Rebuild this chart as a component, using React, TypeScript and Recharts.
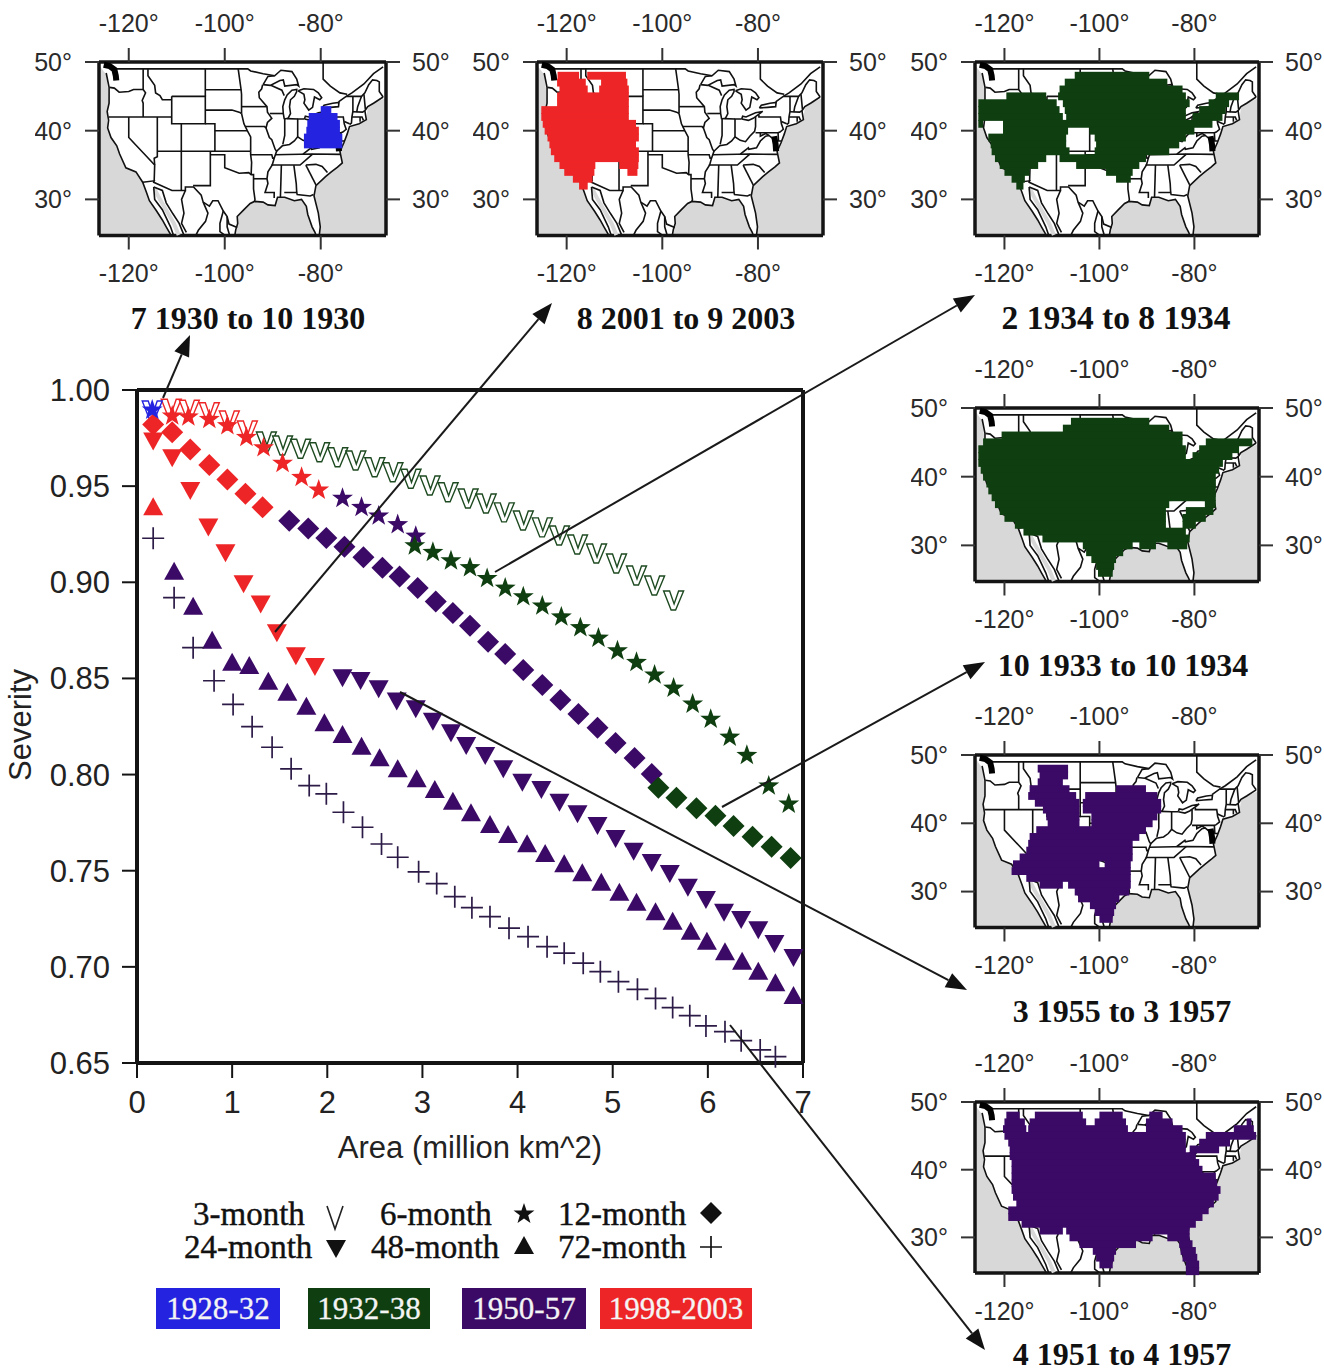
import React from "react";
import {
  Area,
  ComposedChart,
  Scatter,
  ScatterChart,
  XAxis,
  YAxis,
} from "recharts";

// main chart: [area, severity], one list per duration and drought
const threeMonthBlue = [[0.16, 0.9896]];
const threeMonthRed = [[0.36, 0.9905], [0.55, 0.99], [0.76, 0.9887], [0.97, 0.9844], [1.16, 0.9792]];
const threeMonthGreen = [
  [1.36, 0.9735], [1.53, 0.9714], [1.72, 0.9697], [1.92, 0.9679], [2.11, 0.9653], [2.3, 0.9636],
  [2.5, 0.9601], [2.69, 0.9575], [2.88, 0.9541], [3.08, 0.9506], [3.27, 0.9471], [3.48, 0.9438],
  [3.67, 0.9412], [3.86, 0.9366], [4.06, 0.9324], [4.26, 0.9288], [4.44, 0.9246], [4.63, 0.9199],
  [4.83, 0.9152], [5.04, 0.91], [5.25, 0.9038], [5.44, 0.8986], [5.64, 0.8908],
];
const sixMonthBlue = [[0.16, 0.9896]];
const sixMonthRed = [
  [0.37, 0.9865], [0.54, 0.986], [0.76, 0.9847], [0.95, 0.9815], [1.15, 0.9754], [1.33, 0.97],
  [1.53, 0.9619], [1.73, 0.9546], [1.91, 0.948],
];
const sixMonthPurple = [[2.16, 0.9437], [2.36, 0.939], [2.54, 0.9345], [2.74, 0.93], [2.93, 0.924]];
const sixMonthGreen = [
  [2.92, 0.919], [3.11, 0.9156], [3.3, 0.9112], [3.5, 0.9076], [3.68, 0.902], [3.87, 0.897],
  [4.06, 0.8925], [4.26, 0.8877], [4.46, 0.882], [4.66, 0.8764], [4.85, 0.871], [5.05, 0.8644],
  [5.25, 0.8584], [5.44, 0.8518], [5.64, 0.845], [5.84, 0.8367], [6.03, 0.8288], [6.23, 0.8195],
  [6.41, 0.81], [6.64, 0.7941], [6.85, 0.7847],
];
const twelveMonthRed = [
  [0.17, 0.982], [0.37, 0.978], [0.56, 0.969], [0.76, 0.961], [0.95, 0.9535], [1.14, 0.946], [1.32, 0.939],
];
const twelveMonthPurple = [
  [1.6, 0.932], [1.8, 0.928], [1.99, 0.923], [2.18, 0.9185], [2.38, 0.913], [2.58, 0.9076],
  [2.76, 0.903], [2.95, 0.897], [3.14, 0.89], [3.32, 0.884], [3.5, 0.8774], [3.69, 0.8691],
  [3.87, 0.8627], [4.06, 0.8544], [4.26, 0.8466], [4.45, 0.8388], [4.64, 0.8315], [4.84, 0.8243],
  [5.03, 0.8164], [5.23, 0.8086], [5.41, 0.8003],
];
const twelveMonthGreen = [
  [5.48, 0.7932], [5.67, 0.788], [5.88, 0.7825], [6.08, 0.7786], [6.27, 0.7733], [6.47, 0.7677],
  [6.67, 0.7625], [6.87, 0.7566],
];
const twentyFourRed = [
  [0.17, 0.9737], [0.37, 0.965], [0.56, 0.948], [0.75, 0.929], [0.93, 0.9156], [1.12, 0.8995],
  [1.3, 0.889], [1.47, 0.874], [1.67, 0.862], [1.87, 0.8565],
];
const twentyFourPurple = [
  [2.16, 0.8506], [2.35, 0.8492], [2.54, 0.8449], [2.73, 0.8385], [2.93, 0.8345], [3.11, 0.8280],
  [3.3, 0.822], [3.46, 0.8154], [3.66, 0.8102], [3.85, 0.8033], [4.05, 0.7963], [4.25, 0.7925],
  [4.44, 0.7859], [4.63, 0.7799], [4.84, 0.7738], [5.03, 0.767], [5.22, 0.7604], [5.41, 0.7545],
  [5.6, 0.7488], [5.79, 0.7417], [5.98, 0.7353], [6.17, 0.7286], [6.35, 0.7249], [6.53, 0.7196],
  [6.7, 0.7124], [6.9, 0.7051],
];
const fortyEightRed = [[0.17, 0.939]];
const fortyEightPurple = [
  [0.39, 0.9055], [0.59, 0.8873], [0.79, 0.8696], [1.0, 0.8582], [1.18, 0.8565], [1.38, 0.8483],
  [1.58, 0.8426], [1.78, 0.8353], [1.97, 0.8267], [2.16, 0.8206], [2.36, 0.8145], [2.55, 0.8085],
  [2.74, 0.8028], [2.94, 0.7976], [3.13, 0.792], [3.32, 0.7859], [3.51, 0.7799], [3.71, 0.7738],
  [3.9, 0.7686], [4.1, 0.7637], [4.29, 0.7587], [4.49, 0.7533], [4.68, 0.7487], [4.88, 0.7438],
  [5.07, 0.7386], [5.25, 0.7334], [5.45, 0.7284], [5.63, 0.7235], [5.82, 0.7183], [5.99, 0.7131],
  [6.18, 0.7076], [6.36, 0.7027], [6.53, 0.6975], [6.71, 0.6915], [6.9, 0.6849],
];
const seventyTwoPurple = [
  [0.17, 0.9229], [0.39, 0.892], [0.59, 0.866], [0.81, 0.8488], [1.01, 0.8365], [1.21, 0.8249],
  [1.42, 0.8142], [1.62, 0.803], [1.81, 0.7943], [1.99, 0.79], [2.17, 0.7804], [2.37, 0.7726],
  [2.57, 0.7639], [2.74, 0.757], [2.96, 0.7494], [3.15, 0.7433], [3.34, 0.7365], [3.52, 0.7308],
  [3.71, 0.7261], [3.91, 0.7201], [4.11, 0.7157], [4.31, 0.7105], [4.49, 0.7071], [4.69, 0.7019],
  [4.87, 0.6975], [5.06, 0.6923], [5.26, 0.6883], [5.45, 0.6836], [5.63, 0.6788], [5.81, 0.6746],
  [5.98, 0.6693], [6.18, 0.6663], [6.35, 0.6616], [6.55, 0.6568], [6.71, 0.6533],
];

const areaTicks = [0, 1, 2, 3, 4, 5, 6, 7];
const severityTicks = [0.65, 0.7, 0.75, 0.8, 0.85, 0.9, 0.95, 1.0];
const lonTicks = [-120, -100, -80];
const latTicks = [30, 40, 50];

const BLUE = "#2424e0";
const GREEN = "#0f3f10";
const PURPLE = "#3b0a66";
const RED = "#ee2526";
const INK = "#141414";

// map: gray sea is everything under this edge, lon/lat
const seaEdge = [
  [-126.2, 49.6], [-125.2, 48.6], [-124.7, 48.2], [-124.3, 46], [-124.1, 44], [-124.5, 42.8], [-124.4, 40.4],
  [-123.7, 39], [-122.5, 37.8], [-121.9, 36.6], [-120.6, 34.6], [-118.5, 34], [-117.1, 32.5],
  [-116.3, 31], [-115.7, 29.8], [-114.2, 28.3], [-113, 27], [-112.2, 26], [-111.2, 24.8],
  [-97.9, 24.8], [-97.7, 25.6], [-97.3, 26.5], [-97.4, 27.5], [-96, 28.5], [-94.7, 29.4], [-93.8, 29.7],
  [-92, 29.6], [-91, 29.2], [-89.5, 29.1], [-89, 30.3], [-87.5, 30.3], [-85.5, 29.8], [-84, 30],
  [-83, 29], [-82.7, 27.8], [-81.8, 26], [-81.2, 25.2], [-81, 24.8], [-80.3, 24.8], [-80.1, 26],
  [-80.5, 28], [-81.4, 30.5], [-81, 32], [-79, 33.3], [-77.8, 34], [-76.5, 34.7], [-75.5, 35.3],
  [-76, 37], [-75.2, 38.2], [-74.5, 39.5], [-74, 40.6], [-72, 41], [-70.5, 41.6], [-70.2, 43.5],
  [-69, 44], [-67, 44.6], [-66.4, 44.8],
];
const cortez = [[-114.7, 31.6], [-113.5, 30], [-112, 28.2], [-110.6, 26.5], [-109.6, 24.8]];

const coastLines = [
  [[-124.7, 48.4], [-124.1, 46.3], [-124.1, 44], [-124.5, 42.8], [-124.2, 41.5], [-124.4, 40.4], [-123.7, 39], [-122.5, 37.8], [-121.9, 36.6], [-120.6, 34.6], [-118.5, 34], [-117.1, 32.5], [-116.3, 31], [-115.7, 29.8], [-114.2, 28.3], [-113, 27], [-112.2, 26], [-111.2, 24.8]],
  [[-114.8, 31.8], [-114.6, 30], [-113, 28.5], [-111.3, 26], [-110.7, 24.8]],
  [[-114.8, 31.8], [-113, 31.3], [-112.2, 29.5], [-110.8, 27.9], [-109.5, 26.5], [-108.5, 24.8]],
  [[-97.9, 24.8], [-97.7, 25.6], [-97.3, 26.5], [-97.4, 27.5], [-96, 28.5], [-94.7, 29.4], [-93.8, 29.7], [-92, 29.6], [-91, 29.2], [-89.5, 29.1], [-89, 30.3], [-87.5, 30.3], [-85.5, 29.8], [-84, 30], [-83, 29], [-82.7, 27.8], [-81.8, 26], [-81.2, 25.2], [-81, 24.8]],
  [[-80.3, 24.8], [-80.1, 26], [-80.5, 28], [-81.4, 30.5], [-81, 32], [-79, 33.3], [-77.8, 34], [-76.5, 34.7], [-75.5, 35.3], [-76, 37], [-75.2, 38.2], [-74.5, 39.5], [-74, 40.6], [-72, 41], [-70.5, 41.6], [-70.8, 42.9], [-70.2, 43.5], [-69, 44], [-67, 44.9]],
];
const lakeLines = [
  [[-92, 46.7], [-90.5, 46.6], [-88.5, 47.3], [-87.8, 47.4], [-87.5, 46.5], [-85, 46.7], [-84.6, 46.5], [-85, 47.5], [-86, 48.6], [-88.3, 48.8], [-89.6, 48], [-91, 47.9], [-92, 46.7]],
  [[-87.6, 41.7], [-87.8, 42.5], [-87.9, 43.5], [-87.5, 44.5], [-87, 45.2], [-86, 45.9], [-85, 46], [-85, 45.7], [-85.5, 45], [-86.3, 44.5], [-86.5, 43.5], [-86.3, 42.5], [-86.8, 41.8], [-87.6, 41.7]],
  [[-84.7, 45.8], [-83.5, 45.3], [-83.3, 44.5], [-83.5, 44], [-82.5, 43], [-81.7, 43.4], [-81.3, 44.9], [-80.2, 44.5], [-79.8, 44.8], [-80.5, 45.5], [-81.5, 46], [-83.5, 46.1], [-84.7, 45.8]],
  [[-83.4, 41.7], [-82, 41.5], [-81, 41.8], [-79, 42.8], [-80.5, 42.6], [-82.5, 42], [-83.2, 42.1], [-83.4, 41.7]],
  [[-79.7, 43.3], [-78, 43.4], [-76.3, 43.5], [-76.2, 44.1], [-77.5, 44], [-79.3, 43.7], [-79.7, 43.3]],
];
const borderLines = [
  [[-123, 49], [-95.2, 49], [-94.6, 48.7], [-92, 48.3], [-89.6, 48]],
  [[-76.3, 44.2], [-74.7, 45], [-73.5, 45.5], [-71, 46.8], [-69, 48.3], [-67, 49.3]],
  [[-74.7, 45], [-71.5, 45], [-70.8, 45.5], [-70, 46.7], [-69.2, 47.4], [-68.3, 47.3], [-67.8, 47.1], [-67.8, 45.7], [-67, 44.9]],
  [[-79.5, 50], [-79.5, 47.5], [-78, 46.5], [-76, 45.5], [-74.5, 45.3]],
  [[-117.1, 32.5], [-114.7, 32.7], [-114.8, 32.5], [-111, 31.3], [-108.2, 31.3], [-108.2, 31.8], [-106.5, 31.8], [-104.9, 30.6], [-104.5, 29.6], [-103.2, 29], [-102.5, 29.8], [-101.4, 29.8], [-100.3, 28.3], [-99.5, 27.5], [-99.1, 26.4], [-97.4, 25.9]],
  [[-108.2, 31.3], [-109, 30], [-108.5, 28], [-109, 26.5], [-108, 25.2]],
  [[-104.5, 29.6], [-103.5, 28], [-104, 26.8], [-105.5, 25.5], [-106, 24.8]],
  [[-100.3, 28.3], [-101, 26.5], [-101, 25.3], [-100, 24.8]],
  [[-99.5, 27.5], [-99.5, 26], [-99, 24.8]],
];
const stateLines = [
  [[-124, 46.3], [-123, 46.2], [-122, 45.6], [-120, 45.7], [-119, 46], [-117, 46]],
  [[-117, 49], [-117, 46], [-116.5, 45.5], [-117.2, 44.4], [-117, 44], [-117, 42]],
  [[-124.2, 42], [-111.05, 42]],
  [[-116, 49], [-116, 48], [-114.6, 46.6], [-114.4, 45.5], [-113.5, 45.1], [-113, 44.5], [-111.05, 44.5]],
  [[-111.05, 45], [-104.05, 45], [-104.05, 41], [-111.05, 41], [-111.05, 45]],
  [[-104.05, 49], [-104.05, 45]],
  [[-104.05, 45.95], [-96.6, 45.95]],
  [[-104.05, 43], [-98.5, 43], [-97, 42.7], [-96.5, 42.5]],
  [[-104.05, 41], [-102.05, 41], [-102.05, 37]],
  [[-102.05, 40], [-95.3, 40]],
  [[-114.05, 42], [-114.05, 36.2], [-114.7, 36], [-114.6, 35]],
  [[-109.05, 41], [-109.05, 31.3]],
  [[-114.05, 37], [-94.6, 37]],
  [[-103, 37], [-103, 32], [-106.6, 32]],
  [[-103, 36.5], [-100, 36.5], [-100, 34.6], [-97, 33.8], [-95, 33.9], [-94.5, 33.6], [-94, 33.6], [-94, 31.5], [-93.7, 30], [-93.8, 29.7]],
  [[-120, 42], [-120, 39], [-114.6, 35], [-114.7, 32.7]],
  [[-94.6, 37], [-94.6, 36.5], [-94.4, 35.4], [-94.5, 33.6]],
  [[-94, 33], [-91.2, 33]],
  [[-94.6, 36.5], [-90.2, 36.5], [-90, 36], [-89.7, 36]],
  [[-96.5, 42.5], [-96, 41], [-95.3, 40], [-94.6, 39.1], [-94.6, 37]],
  [[-95.8, 40.6], [-91.7, 40.6], [-91.4, 40.4]],
  [[-96.5, 43.5], [-91.2, 43.5]],
  [[-97.2, 49], [-96.6, 46], [-96.5, 45.3], [-96.5, 42.5]],
  [[-92.1, 46.7], [-92.3, 46.1], [-92.9, 45.6], [-92.8, 44.8], [-91.2, 43.5], [-91.1, 42.7], [-90.2, 41.8], [-91.1, 41.2], [-91.4, 40.4], [-90.7, 39], [-90.2, 38.7], [-89.5, 37.3], [-89.2, 37], [-89.7, 36], [-90.1, 35], [-91, 34], [-91.2, 33], [-91, 32.3], [-91.6, 31], [-89.7, 31], [-89.7, 30.2]],
  [[-90.4, 46.6], [-88.1, 45.9], [-87.6, 45.1]],
  [[-90.6, 42.5], [-87.8, 42.5]],
  [[-87.5, 41.7], [-87.5, 39.3], [-87.9, 38]],
  [[-89.2, 37], [-88, 37.8], [-86.5, 38], [-85.5, 38.5], [-84.8, 39.1], [-83.7, 38.6], [-82.6, 38.4], [-81.7, 39.2], [-80.7, 39.9], [-80.5, 40.6], [-80.5, 42]],
  [[-84.8, 39.1], [-84.8, 41.7], [-83.4, 41.7]],
  [[-87, 41.75], [-84.8, 41.7]],
  [[-80.5, 39.7], [-75.8, 39.7], [-75.4, 39.8], [-74.7, 40.2], [-75.1, 41], [-75.3, 42], [-79.8, 42], [-79.8, 42.3]],
  [[-73.3, 45], [-73.3, 42.8], [-73.5, 42], [-73.6, 41.1], [-74, 40.9]],
  [[-71.5, 45], [-72.3, 43.5], [-72.5, 42.7]],
  [[-73.3, 42.75], [-71.3, 42.7], [-70.8, 42.9]],
  [[-73.5, 42], [-71.4, 42], [-71.1, 41.5]],
  [[-71.8, 42], [-71.8, 41.3]],
  [[-70.7, 43.1], [-71, 45.3]],
  [[-75.1, 41.35], [-74, 41]],
  [[-89.5, 36.5], [-81.7, 36.6], [-75.9, 36.55]],
  [[-83.7, 36.6], [-82, 37.5], [-81.9, 37.3], [-80.3, 37.5], [-79.5, 38.5], [-78.4, 39.2], [-77.7, 39.3], [-77, 38.9], [-76.3, 38]],
  [[-79.5, 39.7], [-79.5, 39.2], [-78.4, 39.6], [-77.7, 39.3]],
  [[-75.8, 39.7], [-75.7, 38.5], [-75.1, 38.5]],
  [[-90.3, 35], [-84.3, 35], [-81.7, 36.6]],
  [[-88.2, 35], [-88.4, 30.3]],
  [[-85.6, 35], [-85.1, 32.3], [-85, 31]],
  [[-87.6, 31], [-85, 31], [-84.9, 30.7], [-82.2, 30.5], [-81.5, 30.7]],
  [[-83.1, 35], [-81, 32.1]],
  [[-83.1, 35], [-81, 35.1], [-79.7, 34.8], [-78.6, 33.9]],
];
const inkBlots = [
  [[-125.2, 49.6], [-124, 49.4], [-123, 48.9], [-122.7, 48], [-122.6, 47.3]],
  [[-76.6, 39.2], [-76.3, 38], [-76.2, 37]],
];

// drought footprints, one row per degree of latitude: [lat, west, east]
const drought1930 = [
  [43, -80, -77.8], [42, -82.5, -76.5], [41, -82.8, -76], [40, -83, -76], [39, -83.5, -75.5], [38, -83.5, -75.5],
];
const drought2001 = [
  [48, -121.9, -117.4], [48, -115.7, -107.6], [47, -122, -116], [47, -112.8, -107.3],
  [46, -121.5, -115.6], [46, -113.2, -107], [45, -122, -107], [44, -122, -107], [43, -125.3, -107],
  [42, -125.3, -107], [41, -125, -105.5], [40, -124.6, -104.9], [39, -124, -104.9], [38, -123.6, -105.5],
  [37, -123.3, -104.9], [36, -122.6, -104.9], [35, -121.5, -114], [35, -109, -105],
  [34, -120.5, -114.2], [34, -107.3, -105.2], [33, -118.7, -114.6], [32, -117.4, -115.6],
];
const drought1934 = [
  [48, -105.2, -89.5], [47, -107.3, -85.7], [46, -108.4, -82.5],
  [45, -119.6, -111.2], [45, -108.7, -81.8], [45, -75.5, -70.6],
  [44, -125.5, -109], [44, -107.7, -81], [44, -77, -72.7],
  [43, -125.5, -108.4], [43, -107.3, -81.8], [43, -79, -73.4],
  [42, -125.5, -107.7], [42, -107, -81.8], [42, -80.4, -74.1],
  [41, -125.5, -124.5], [41, -120.3, -76.2],
  [40, -120.3, -106.6], [40, -102.1, -80],
  [39, -123.4, -107], [39, -101, -81.8], [38, -122.9, -107], [38, -100.7, -83.2],
  [37, -122.7, -106.3], [37, -101, -85.3], [36, -122, -111.2], [36, -108.4, -90.2],
  [35, -121, -112.9], [35, -104.9, -91.6], [34, -120, -114.7], [34, -98.6, -93],
  [33, -118.5, -115.7], [33, -96.5, -93.4], [32, -117.5, -116],
];
const drought1933 = [
  [48, -106, -89.5], [47, -107.7, -85.3], [46, -120.6, -82.5], [45, -124.5, -82.5], [45, -77.6, -67.8],
  [44, -125.5, -81.8], [44, -79, -70.6], [43, -125.5, -81.8], [43, -80.4, -72], [42, -125.5, -74],
  [41, -125, -74.8], [40, -124.5, -75.5], [39, -123.8, -75.5], [38, -123.4, -75.5], [37, -122.7, -75.5],
  [36, -122, -85.3], [36, -77.8, -75.5], [35, -121, -86], [35, -81.8, -76], [34, -120, -86], [34, -82.5, -77.6],
  [33, -117.8, -86], [33, -82.5, -79.7], [32, -116, -81.8], [31, -112, -81],
  [30, -103.5, -93], [30, -91.6, -88.1], [30, -85.7, -81.5], [29, -102.8, -95], [28, -101.7, -96.5],
  [27, -100.7, -96.9], [26, -100.3, -97.2],
];
const drought1955 = [
  [48, -113, -106.6], [47, -112.6, -106.6], [46, -113, -107.7], [45, -114.7, -106.3], [45, -96.5, -90.2],
  [44, -115, -104.9], [44, -103, -87.8], [43, -113.6, -104.2], [43, -103.5, -87], [42, -111.9, -104.2], [42, -103.5, -87],
  [41, -111.2, -104.2], [41, -101.7, -87.8], [40, -110.9, -104.2], [40, -101.7, -88.8],
  [39, -113.3, -90.2], [38, -114.7, -91.6], [37, -115, -93], [36, -115.4, -93], [35, -116.8, -93],
  [34, -118.2, -100], [34, -98.9, -93.4], [33, -118.5, -93.4], [32, -115.4, -93.4],
  [31, -112.6, -107.7], [31, -106.6, -93.4], [30, -105.2, -93.7], [29, -104.5, -95.8],
  [28, -102, -96.5], [27, -101, -96.9], [26, -100, -97.2],
];
const drought1951 = [
  [48, -119.6, -116.8], [48, -113.6, -103.5], [48, -100, -95.1], [48, -89.5, -86.7],
  [47, -120, -115.7], [47, -114.7, -102.8], [47, -101, -94.4], [47, -90.2, -84.6], [47, -69, -68],
  [46, -120.3, -115.4], [46, -115, -94], [46, -90.2, -82.5], [46, -71.7, -67.5],
  [45, -120, -81.8], [45, -77.6, -67], [44, -119.2, -81.8], [44, -79, -72.5], [43, -118.9, -81.8], [43, -81, -74.8],
  [42, -118.9, -79.7], [41, -118.5, -79], [40, -118.5, -78.3], [39, -118.5, -75.5], [38, -118.5, -75.2],
  [37, -118.5, -74.5], [36, -118.2, -74.9], [35, -117.5, -75.9], [34, -119.2, -77], [33, -119.2, -78.3],
  [32, -116.4, -79.7], [31, -112.6, -107.7], [31, -107, -81], [30, -106.3, -88.8], [30, -85.7, -81],
  [29, -104.2, -92.3], [29, -83.2, -80.4], [28, -101.4, -96.5], [28, -82.9, -79.7],
  [27, -100.7, -96.9], [27, -82.5, -79.4], [26, -100, -97.2], [26, -81.8, -79], [25, -81.8, -79],
];

const lonDomain = [-126.2, -66.4];
const latDomain = [24.74, 50];

const pts = (line: number[][]) => line.map(([lon, lat]) => ({ lon, lat }));
const xy = (list: number[][]) => list.map(([x, y]) => ({ x, y }));

const Glyph = ({ kind, cx, cy, color }: any) => {
  if (cx == null || cy == null) return null;
  if (kind === "diamond") {
    return <polygon points={`${cx},${cy - 11} ${cx + 11},${cy} ${cx},${cy + 11} ${cx - 11},${cy}`} fill={color} />;
  }
  if (kind === "up") {
    return <polygon points={`${cx},${cy - 10} ${cx + 10},${cy + 8} ${cx - 10},${cy + 8}`} fill={color} />;
  }
  if (kind === "down") {
    return <polygon points={`${cx},${cy + 10} ${cx + 10},${cy - 8} ${cx - 10},${cy - 8}`} fill={color} />;
  }
  if (kind === "plus") {
    return <path d={`M${cx - 11},${cy}H${cx + 11}M${cx},${cy - 11}V${cy + 11}`} stroke={color} strokeWidth={1.7} fill="none" />;
  }
  if (kind === "star") {
    const corners: string[] = [];
    for (let i = 0; i < 10; i++) {
      const r = i % 2 === 0 ? 11 : 4.4;
      const a = -Math.PI / 2 + (i * Math.PI) / 5;
      corners.push(`${cx + r * Math.cos(a)},${cy + r * Math.sin(a)}`);
    }
    return <polygon points={corners.join(" ")} fill={color} />;
  }
  // 3-month marker is an outlined letter V
  return (
    <polygon
      points={`${cx - 10},${cy - 9} ${cx - 4},${cy - 9} ${cx + 0.5},${cy + 4} ${cx + 5},${cy - 9} ${cx + 10},${cy - 9} ${cx + 2},${cy + 10} ${cx - 2.5},${cy + 10}`}
      fill="#fff"
      stroke={color}
      strokeWidth={1.4}
    />
  );
};

const mainSeries = [
  { data: threeMonthGreen, kind: "vee", color: "#1d4a20" },
  { data: threeMonthRed, kind: "vee", color: RED },
  { data: threeMonthBlue, kind: "vee", color: BLUE },
  { data: twelveMonthRed, kind: "diamond", color: RED },
  { data: twelveMonthPurple, kind: "diamond", color: PURPLE },
  { data: twelveMonthGreen, kind: "diamond", color: GREEN },
  { data: sixMonthRed, kind: "star", color: RED },
  { data: sixMonthPurple, kind: "star", color: PURPLE },
  { data: sixMonthGreen, kind: "star", color: GREEN },
  { data: sixMonthBlue, kind: "star", color: BLUE },
  { data: twentyFourRed, kind: "down", color: RED },
  { data: twentyFourPurple, kind: "down", color: PURPLE },
  { data: fortyEightRed, kind: "up", color: RED },
  { data: fortyEightPurple, kind: "up", color: PURPLE },
  { data: seventyTwoPurple, kind: "plus", color: "#2c1b47" },
];

const MainChart = () => {
  const axisLine = { stroke: INK, strokeWidth: 4 };
  const tickLine = { stroke: INK, strokeWidth: 2 };
  const tick = { fontSize: 31, fill: "#222", fontFamily: "Liberation Sans" };
  const labelFont = { fontSize: 31, fill: "#222", fontFamily: "Liberation Sans" };
  return (
    <div style={{ position: "absolute", left: 0, top: 350 }}>
      <ScatterChart width={870} height={850} margin={{ top: 0, right: 0, bottom: 0, left: 0 }}>
        <XAxis xAxisId="b" type="number" dataKey="x" domain={[0, 7]} ticks={areaTicks} interval={0} height={137}
          axisLine={axisLine} tickLine={tickLine} tickSize={15} tickMargin={13} tick={tick}
          label={{ value: "Area (million km^2)", position: "insideBottom", offset: 42, ...labelFont }} />
        <XAxis xAxisId="t" orientation="top" type="number" dataKey="x" domain={[0, 7]} ticks={areaTicks} interval={0} height={40}
          axisLine={axisLine} tickLine={tickLine} tickSize={15} tick={false} />
        <YAxis yAxisId="l" type="number" dataKey="y" domain={[0.65, 1]} ticks={severityTicks} interval={0} width={137}
          axisLine={axisLine} tickLine={tickLine} tickSize={15} tickMargin={12} tick={tick}
          tickFormatter={(v: number) => v.toFixed(2)}
          label={{ value: "Severity", angle: -90, position: { x: 31, y: 335 }, textAnchor: "middle", verticalAnchor: "middle", ...labelFont }} />
        <YAxis yAxisId="r" orientation="right" type="number" dataKey="y" domain={[0.65, 1]} ticks={severityTicks} interval={0} width={67}
          axisLine={axisLine} tickLine={tickLine} tickSize={15} tick={false} />
        {mainSeries.map((s, i) => (
          <Scatter
            key={i}
            data={xy(s.data)}
            xAxisId="b"
            yAxisId="l"
            isAnimationActive={false}
            shape={(p: any) => <Glyph kind={s.kind} cx={p.cx} cy={p.cy} color={s.color} />}
          />
        ))}
      </ScatterChart>
    </div>
  );
};

const MapPanel = ({ panel }: any) => {
  const { left, top, width, height, rows, color, title, titleX, titleY, titleSize } = panel;
  const pad = 64;
  const axisH = 62;
  const pxPerLon = width / (lonDomain[1] - lonDomain[0]);
  const pxPerLat = height / (latDomain[1] - latDomain[0]);
  const axisLine = { stroke: INK, strokeWidth: 3.5 };
  const tickLine = { stroke: "#333", strokeWidth: 2 };
  const tick = { fontSize: 25, fill: "#2a2a2a", fontFamily: "Liberation Sans" };
  const region = rows.map(([lat, west, east]: number[]) => ({ lon: (west + east) / 2, lat, span: east - west }));
  const lineProps = { xAxisId: "b", yAxisId: "l", isAnimationActive: false, shape: () => null };
  return (
    <>
      <div style={{ position: "absolute", left: left - pad, top: top - axisH }}>
        <ComposedChart
          data={pts(seaEdge)}
          width={width + pad * 2}
          height={height + axisH * 2}
          margin={{ top: 0, right: 0, bottom: 0, left: 0 }}
        >
          <XAxis xAxisId="b" type="number" dataKey="lon" domain={lonDomain} ticks={lonTicks} interval={0} height={axisH}
            axisLine={axisLine} tickLine={tickLine} tickSize={14} tickMargin={15} tick={tick} tickFormatter={(v: number) => `${v}°`} />
          <XAxis xAxisId="t" orientation="top" type="number" dataKey="lon" domain={lonDomain} ticks={lonTicks} interval={0} height={axisH}
            axisLine={axisLine} tickLine={tickLine} tickSize={14} tickMargin={16} tick={tick} tickFormatter={(v: number) => `${v}°`} />
          <YAxis yAxisId="l" type="number" dataKey="lat" domain={latDomain} ticks={latTicks} interval={0} width={pad}
            axisLine={axisLine} tickLine={tickLine} tickSize={14} tickMargin={13} tick={tick} tickFormatter={(v: number) => `${v}°`} />
          <YAxis yAxisId="r" orientation="right" type="number" dataKey="lat" domain={latDomain} ticks={latTicks} interval={0} width={pad}
            axisLine={axisLine} tickLine={tickLine} tickSize={14} tickMargin={12} tick={tick} tickFormatter={(v: number) => `${v}°`} />
          <Area xAxisId="b" yAxisId="l" dataKey="lat" type="linear" stroke="none" fill="#d8d8d8" fillOpacity={1} isAnimationActive={false} />
          <Scatter {...lineProps} data={pts(cortez)} line={{ stroke: "#d8d8d8", strokeWidth: 4 }} />
          {[...coastLines, ...lakeLines, ...borderLines, ...stateLines].map((l, i) => (
            <Scatter key={i} {...lineProps} data={pts(l)} line={{ stroke: "#111", strokeWidth: 1.6 }} />
          ))}
          {inkBlots.map((l, i) => (
            <Scatter key={i} {...lineProps} data={pts(l)} line={{ stroke: "#000", strokeWidth: 6 }} />
          ))}
          <Scatter
            xAxisId="b"
            yAxisId="l"
            data={region}
            isAnimationActive={false}
            shape={(p: any) => {
              const w = p.payload.span * pxPerLon;
              return <rect x={p.cx - w / 2} y={p.cy - pxPerLat / 2 - 0.5} width={w} height={pxPerLat + 1} fill={color} />;
            }}
          />
        </ComposedChart>
      </div>
      <div style={{ position: "absolute", left: titleX - 170, top: titleY - 14, width: 340, textAlign: "center", fontFamily: "Liberation Serif", fontWeight: 700, fontSize: titleSize, lineHeight: "28px", color: "#111", whiteSpace: "nowrap" }}>
        {title}
      </div>
    </>
  );
};

const panels = [
  { left: 99, top: 62, width: 287, height: 173.5, rows: drought1930, color: BLUE, title: "7 1930 to 10 1930", titleX: 248, titleY: 318, titleSize: 32 },
  { left: 537, top: 62, width: 286, height: 173.5, rows: drought2001, color: RED, title: "8 2001 to 9 2003", titleX: 686, titleY: 318, titleSize: 32 },
  { left: 975, top: 62, width: 284, height: 173.5, rows: drought1934, color: GREEN, title: "2 1934 to 8 1934", titleX: 1116, titleY: 318, titleSize: 33.5 },
  { left: 975, top: 408, width: 284, height: 173.5, rows: drought1933, color: GREEN, title: "10 1933 to 10 1934", titleX: 1123, titleY: 665, titleSize: 32 },
  { left: 975, top: 755, width: 284, height: 172.5, rows: drought1955, color: PURPLE, title: "3 1955 to 3 1957", titleX: 1122, titleY: 1011, titleSize: 32 },
  { left: 975, top: 1102, width: 284, height: 171, rows: drought1951, color: PURPLE, title: "4 1951 to 4 1957", titleX: 1122, titleY: 1354, titleSize: 32 },
];

// annotation arrows from a curve point out to its map
const arrows = [
  [163, 398, 190, 335],
  [275, 632, 552, 303],
  [495, 572, 975, 295],
  [722, 807, 985, 662],
  [400, 692, 967, 990],
  [730, 1025, 985, 1350],
];

const Arrows = () => (
  <svg width={1324} height={1369} style={{ position: "absolute", left: 0, top: 0, pointerEvents: "none" }}>
    {arrows.map(([x1, y1, x2, y2], i) => {
      const a = Math.atan2(y2 - y1, x2 - x1);
      const len = 21;
      const half = 8;
      const bx = x2 - len * Math.cos(a);
      const by = y2 - len * Math.sin(a);
      const nx = -Math.sin(a) * half;
      const ny = Math.cos(a) * half;
      return (
        <g key={i}>
          <line x1={x1} y1={y1} x2={bx} y2={by} stroke="#1a1a1a" strokeWidth={2} />
          <polygon points={`${x2},${y2} ${bx + nx},${by + ny} ${bx - nx},${by - ny}`} fill="#111" />
        </g>
      );
    })}
  </svg>
);

const legendTexts = [
  { label: "3-month", x: 193, y: 1214 },
  { label: "6-month", x: 380, y: 1214 },
  { label: "12-month", x: 558, y: 1214 },
  { label: "24-month", x: 184, y: 1247 },
  { label: "48-month", x: 371, y: 1247 },
  { label: "72-month", x: 558, y: 1247 },
];
const legendGlyphs = [
  { kind: "vletter", x: 335, y: 1217 },
  { kind: "star", x: 524, y: 1214 },
  { kind: "diamond", x: 711, y: 1213 },
  { kind: "down", x: 336, y: 1248 },
  { kind: "up", x: 524, y: 1246 },
  { kind: "plus", x: 711, y: 1247 },
];
const periodBoxes = [
  { label: "1928-32", x: 156, w: 124, color: BLUE },
  { label: "1932-38", x: 308, w: 122, color: GREEN },
  { label: "1950-57", x: 462, w: 124, color: PURPLE },
  { label: "1998-2003", x: 600, w: 152, color: RED },
];

const Legend = () => (
  <>
    {legendTexts.map((t) => (
      <div key={t.label} style={{ position: "absolute", left: t.x, top: t.y - 18, fontFamily: "Liberation Serif", fontSize: 33, lineHeight: "36px", color: "#111", whiteSpace: "nowrap", WebkitTextStroke: "0.4px #111" }}>
        {t.label}
      </div>
    ))}
    <svg width={1324} height={1369} style={{ position: "absolute", left: 0, top: 0, pointerEvents: "none" }}>
      {legendGlyphs.map((g) =>
        g.kind === "vletter" ? (
          <path key={g.kind} d={`M${g.x - 8},${g.y - 11}L${g.x},${g.y + 12}L${g.x + 8},${g.y - 11}`} stroke="#222" strokeWidth={1.6} fill="none" />
        ) : (
          <Glyph key={g.kind} kind={g.kind} cx={g.x} cy={g.y} color="#111" />
        )
      )}
    </svg>
    {periodBoxes.map((b) => (
      <div key={b.label} style={{ position: "absolute", left: b.x, top: 1288, width: b.w, height: 41, background: b.color, color: "#f4f4f4", fontFamily: "Liberation Serif", fontSize: 31, lineHeight: "41px", textAlign: "center", whiteSpace: "nowrap", WebkitTextStroke: "0.3px #f4f4f4" }}>
        {b.label}
      </div>
    ))}
  </>
);

export default function App() {
  return (
    <div style={{ position: "absolute", left: 0, top: 0, width: 1324, height: 1369, overflow: "hidden", background: "#fff" }}>
      <MainChart />
      {panels.map((p) => (
        <MapPanel key={p.title} panel={p} />
      ))}
      <Legend />
      <Arrows />
    </div>
  );
}
